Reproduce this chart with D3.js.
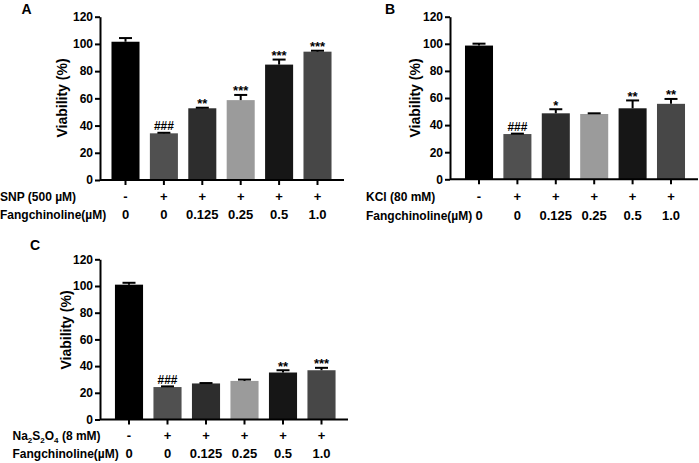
<!DOCTYPE html>
<html><head><meta charset="utf-8">
<script src="https://cdn.jsdelivr.net/npm/d3@7"></script>
<style>
body{margin:0;background:#fff}
svg{display:block}
text{font-family:"Liberation Sans",Arial,sans-serif;font-weight:bold;fill:#000}
</style>
</head><body>
<svg id="chart" width="699" height="463"></svg>
<script>
// ---- data ----
const groups = ["g1","g2","g3","g4","g5","g6"];
const insultSigns = ["-","+","+","+","+","+"];
const doseLabels = ["0","0","0.125","0.25","0.5","1.0"];
const yTicks = [0,20,40,60,80,100,120];
const barColors = ["#000000","#505050","#2d2d2d","#9b9b9b","#161616","#474747"];

const snpValues = [101.6, 34.3, 52.7, 58.7, 84.8, 94.3];
const snpErrors = [2.7, 0.4, 0.4, 3.8, 3.7, 0.7];
const snpSig    = ["", "###", "**", "***", "***", "***"];

const kclValues = [98.7, 33.4, 48.7, 48.2, 52.4, 55.7];
const kclErrors = [1.4, 0.3, 3.0, 0.5, 5.8, 3.6];
const kclSig    = ["", "###", "*", "", "**", "**"];

const naValues  = [101.0, 24.3, 27.0, 28.9, 35.2, 36.9];
const naErrors  = [1.4, 0.5, 0.3, 1.0, 1.7, 1.8];
const naSig     = ["", "###", "", "", "**", "***"];

const yLabel = "Viability (%)";
const doseTitle = "Fangchinoline(\u00b5M)";

// ---- layout ----
const svg = d3.select("#chart");

const panels = [
  {letter:"A", lx:21.5, ly:13.5, axisX:100, axisEnd:344, c0:125.5, c5:317.5, y0:180, y120:16.7,
   ylabX:67, ylabY:98, rowX:0, row1Y:201, row2Y:219, insult:[{t:"SNP (500 \u00b5M)"}],
   values:snpValues, errors:snpErrors, sig:snpSig},
  {letter:"B", lx:385, ly:13.5, axisX:450, axisEnd:698, c0:479, c5:671, y0:179.3, y120:16.7,
   ylabX:420, ylabY:98, rowX:366, row1Y:201, row2Y:219.5, insult:[{t:"KCl (80 mM)"}],
   values:kclValues, errors:kclErrors, sig:kclSig},
  {letter:"C", lx:30, ly:250, axisX:100, axisEnd:348, c0:129, c5:321.5, y0:419.5, y120:259.3,
   ylabX:71, ylabY:330, rowX:12.5, row1Y:440, row2Y:458,
   insult:[{t:"Na"},{t:"2",sub:true},{t:"S"},{t:"2",sub:true},{t:"O"},{t:"4",sub:true},{t:" (8 mM)"}],
   values:naValues, errors:naErrors, sig:naSig}
];

panels.forEach(p => {
  const step = (p.c5 - p.c0) / (groups.length - 1);
  const x = d3.scaleBand().domain(groups)
    .range([p.c0 - step/2, p.c5 + step/2])
    .paddingInner(0.27).paddingOuter(0.135);
  const y = d3.scaleLinear().domain([0,120]).range([p.y0, p.y120]);
  const g = svg.append("g");
  const bw = x.bandwidth();

  // bars
  g.selectAll("rect.bar").data(groups).join("rect")
    .attr("x", d => x(d)).attr("width", bw)
    .attr("y", (d,i) => y(p.values[i]))
    .attr("height", (d,i) => p.y0 - y(p.values[i]))
    .attr("fill", (d,i) => barColors[i]);

  // error bars (upward)
  groups.forEach((d,i) => {
    const cx = x(d) + bw/2;
    const top = y(p.values[i] + p.errors[i]);
    g.append("line").attr("x1",cx).attr("x2",cx)
      .attr("y1", y(p.values[i])).attr("y2", top)
      .attr("stroke","#000").attr("stroke-width",2);
    g.append("line").attr("x1",cx-6.5).attr("x2",cx+6.5)
      .attr("y1", top).attr("y2", top)
      .attr("stroke","#000").attr("stroke-width",2);
    const s = p.sig[i];
    if (s) {
      const isHash = s[0] === "#";
      g.append("text").attr("x", cx)
        .attr("y", isHash ? top - 2.5 : top + 0.5)
        .attr("text-anchor","middle")
        .attr("font-size", isHash ? 12 : 13)
        .text(s);
    }
  });

  // y axis
  g.append("g").attr("transform",`translate(${p.axisX},0)`)
    .call(d3.axisLeft(y).tickValues(yTicks).tickSize(5).tickSizeOuter(0).tickPadding(2))
    .call(a => a.select(".domain").attr("stroke-width",2))
    .call(a => a.selectAll(".tick line").attr("stroke-width",2))
    .call(a => a.selectAll("text").attr("font-size",12).attr("font-family",null).style("font-weight","bold"));

  // x axis
  g.append("g").attr("transform",`translate(0,${p.y0})`)
    .call(d3.axisBottom(x).tickSize(5).tickSizeOuter(0).tickFormat(""))
    .call(a => a.select(".domain").attr("d", `M${p.axisX},0H${p.axisEnd}`).attr("stroke-width",2))
    .call(a => a.selectAll(".tick line").attr("stroke-width",2));

  // y label
  g.append("text")
    .attr("transform", `translate(${p.ylabX},${p.ylabY}) rotate(-90)`)
    .attr("text-anchor","middle").attr("font-size",14).text(yLabel);

  // panel letter
  g.append("text").attr("x",p.lx).attr("y",p.ly).attr("font-size",14).text(p.letter);

  // row 1: insult
  const r1 = g.append("text").attr("x",p.rowX).attr("y",p.row1Y).attr("font-size",12);
  let prevSub = false;
  p.insult.forEach(part => {
    const ts = r1.append("tspan").text(part.t);
    if (part.sub) { ts.attr("font-size",8).attr("dy",3); prevSub = true; }
    else if (prevSub) { ts.attr("dy",-3); prevSub = false; }
  });

  // row 2: dose title
  g.append("text").attr("x",p.rowX).attr("y",p.row2Y).attr("font-size",12).text(doseTitle);

  // signs and doses
  g.selectAll("text.sign").data(groups).join("text").attr("class","sign")
    .attr("x", d => x(d) + bw/2).attr("y", p.row1Y)
    .attr("text-anchor","middle").attr("font-size",13)
    .text((d,i) => insultSigns[i]);
  g.selectAll("text.dose").data(groups).join("text").attr("class","dose")
    .attr("x", d => x(d) + bw/2).attr("y", p.row2Y)
    .attr("text-anchor","middle").attr("font-size",13)
    .text((d,i) => doseLabels[i]);
});
</script>
</body></html>
